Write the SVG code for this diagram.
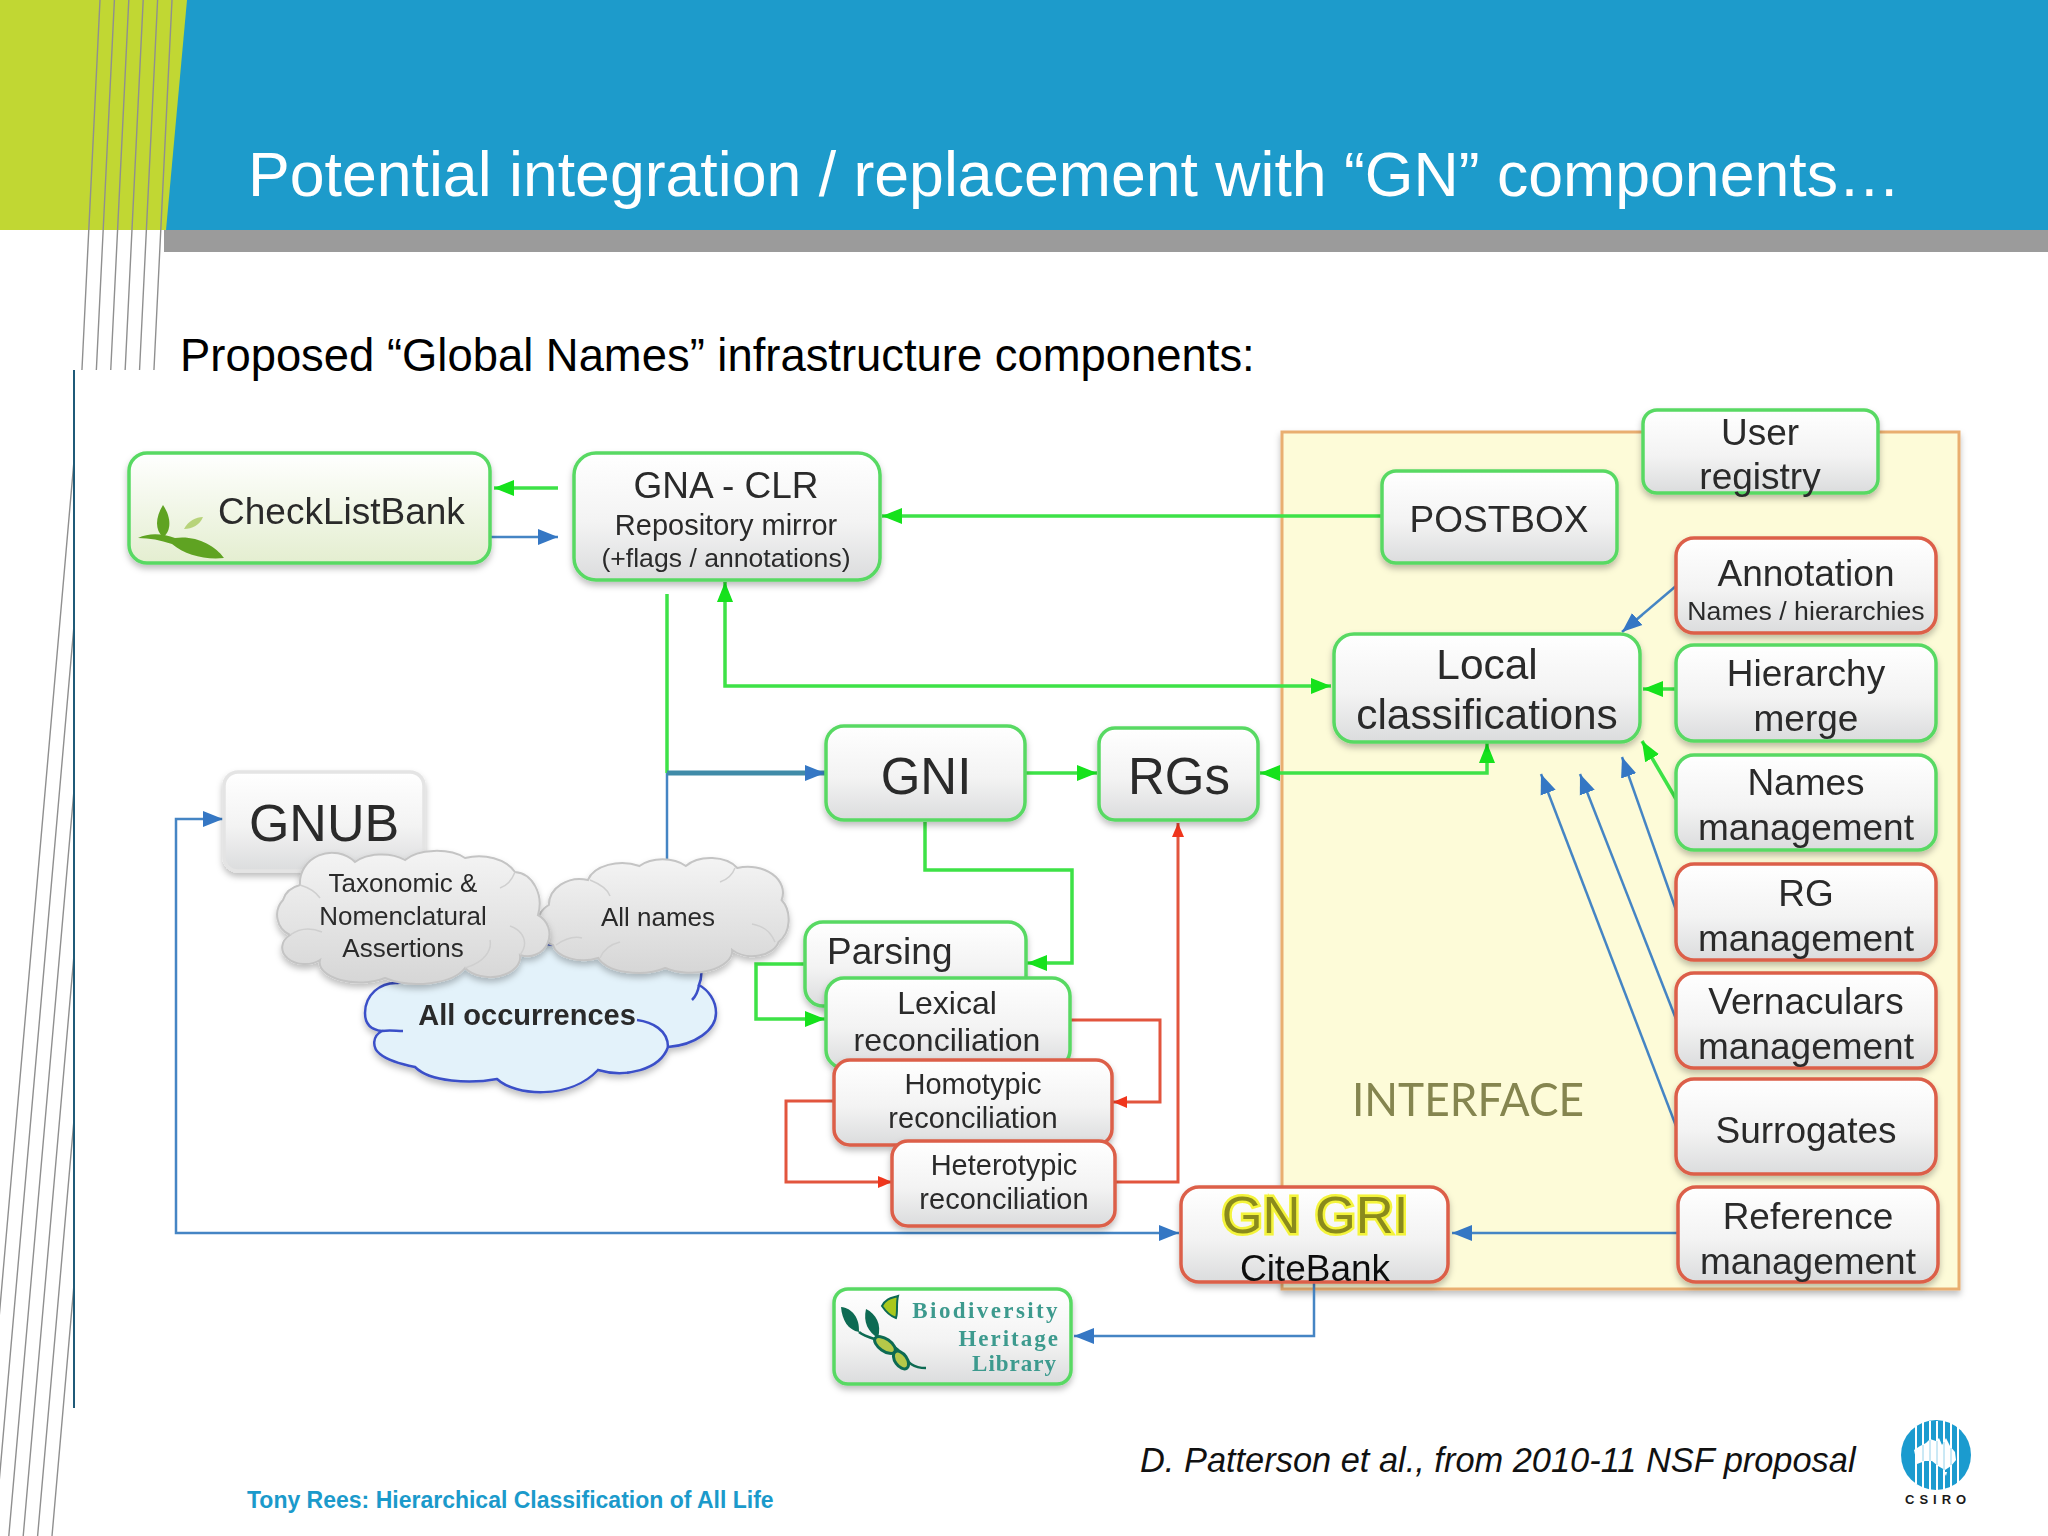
<svg xmlns="http://www.w3.org/2000/svg" width="2048" height="1536" viewBox="0 0 2048 1536">
<defs>
<linearGradient id="gn" x1="0" y1="0" x2="0" y2="1"><stop offset="0" stop-color="#ffffff"/><stop offset="0.55" stop-color="#f3f3f3"/><stop offset="1" stop-color="#dbdcdd"/></linearGradient>
<linearGradient id="gc" x1="0" y1="0" x2="0" y2="1"><stop offset="0" stop-color="#ffffff"/><stop offset="1" stop-color="#e4eed0"/></linearGradient>
<linearGradient id="gcl" x1="0" y1="0" x2="0" y2="1"><stop offset="0" stop-color="#f4f4f4"/><stop offset="1" stop-color="#d6d6d6"/></linearGradient>
<filter id="sh" x="-10%" y="-10%" width="120%" height="125%"><feDropShadow dx="0" dy="4" stdDeviation="3" flood-color="#000" flood-opacity="0.25"/></filter>
<filter id="soft" filterUnits="userSpaceOnUse" x="80" y="380" width="1900" height="1030"><feGaussianBlur stdDeviation="0.7"/></filter>
<marker id="ag" markerUnits="userSpaceOnUse" markerWidth="22" markerHeight="18" refX="20" refY="9" orient="auto-start-reverse"><path d="M0,1 L20,9 L0,17 Z" fill="#12e21c"/></marker>
<marker id="ab" markerUnits="userSpaceOnUse" markerWidth="22" markerHeight="18" refX="20" refY="9" orient="auto-start-reverse"><path d="M0,1 L20,9 L0,17 Z" fill="#3477c4"/></marker>
<marker id="ar" markerUnits="userSpaceOnUse" markerWidth="16" markerHeight="14" refX="14" refY="7" orient="auto-start-reverse"><path d="M0,1 L14,7 L0,13 Z" fill="#f0361c"/></marker>
</defs>
<style>
text{font-family:"Liberation Sans",Arial,sans-serif;fill:#2a2a2a}
.m{text-anchor:middle}
.f37{font-size:37px}
.n{stroke-width:3.5;fill:url(#gn);filter:url(#sh)}
.G{stroke:#58d963}
.R{stroke:#dc5f48}
.c{fill:none;stroke-linejoin:miter}
.cg{stroke:#3ee246;stroke-width:3.5}
.cb{stroke:#4585c4;stroke-width:2.5}
.cr{stroke:#e2553c;stroke-width:3}
.sl{fill:none;stroke:#8f8f8f;stroke-width:1.4}
.cl{fill:url(#gcl);stroke:#c4c4c4;stroke-width:2;filter:url(#sh)}
.in{fill:none;stroke:#cfcfcf;stroke-width:1.5}
.bt{font-family:"Liberation Serif",serif;fill:#3d9a8e;font-size:23px;font-weight:700;text-anchor:end}
</style>
<rect width="2048" height="1536" fill="#fff"/>
<g id="header">
<rect x="0" y="0" width="2048" height="230" fill="#1d9bcb"/>
<polygon points="0,0 187,0 166,230 0,230" fill="#c1d733"/>
<rect x="164" y="230" width="1884" height="22" fill="#9b9b9b"/>
<polyline class="sl" points="172,0 154,369 52,1536"/>
<polyline class="sl" points="157.600,0 139.600,369 37.600,1536"/>
<polyline class="sl" points="143.200,0 125.200,369 23.200,1536"/>
<polyline class="sl" points="128.800,0 110.800,369 8.800,1536"/>
<polyline class="sl" points="114.400,0 96.400,369 -5.600,1536"/>
<polyline class="sl" points="100,0 82,369 -20,1536"/>
<rect x="75" y="370" width="1973" height="1166" fill="#fff"/>
<line x1="74" y1="370" x2="74" y2="1408" stroke="#1f5a78" stroke-width="2"/>
<text x="248" y="196" font-size="62.6" style="fill:#fff">Potential integration / replacement with “GN” components…</text>
<text x="180" y="371" font-size="45.4" style="fill:#000">Proposed “Global Names” infrastructure components:</text>
</g>
<g id="diagram" filter="url(#soft)">
<g id="interface">
<rect x="1282" y="432" width="677" height="857" fill="#fdfbd8" stroke="#e9ae70" stroke-width="3" filter="url(#sh)"/>
<text x="1352" y="1116" font-size="47" textLength="232" lengthAdjust="spacingAndGlyphs" style="font-family:Lato,sans-serif;fill:#85854f">INTERFACE</text>
</g>
<g id="connectors" class="c">
<path class="c cg" d="M558,488 H494" marker-end="url(#ag)"/>
<path class="c cb" d="M490,537 H558" marker-end="url(#ab)"/>
<path class="c cg" d="M1382,516 H882" marker-end="url(#ag)"/>
<path class="c cg" d="M667,594 V773"/>
<path class="c cb" d="M667,773 V866"/>
<path class="c" stroke="#3f8ba8" stroke-width="5" d="M667,773 H825" marker-end="url(#ab)"/>
<path class="c cg" d="M725,582 V686 H1331" marker-start="url(#ag)" marker-end="url(#ag)"/>
<path class="c cg" d="M1026,773 H1097" marker-end="url(#ag)"/>
<path class="c cg" d="M1260,773 H1487 V743" marker-start="url(#ag)" marker-end="url(#ag)"/>
<path class="c cg" d="M925,822 V870 H1072 V963 H1027" marker-end="url(#ag)"/>
<path class="c cg" d="M804,964 H756 V1019 H825" marker-end="url(#ag)"/>
<path class="c cr" d="M1070,1020 H1160 V1102 H1113" marker-end="url(#ar)"/>
<path class="c cr" d="M833,1101 H786 V1182 H892" marker-end="url(#ar)"/>
<path class="c cr" d="M1115,1182 H1178 V823" marker-end="url(#ar)"/>
<path class="c cb" d="M223,819 H176 V1233 H1179" marker-start="url(#ab)" marker-end="url(#ab)"/>
<path class="c cb" d="M1677,1233 H1452" marker-end="url(#ab)"/>
<path class="c cb" d="M1314,1283 V1336 H1074" marker-end="url(#ab)"/>
<path class="c cb" d="M1676,586 L1622,632" marker-end="url(#ab)"/>
<path class="c cg" d="M1676,689 H1643" marker-end="url(#ag)"/>
<path class="c cg" d="M1676,799 L1642,741" marker-end="url(#ag)"/>
<path class="c cb" d="M1676,910 L1622,757" marker-end="url(#ab)"/>
<path class="c cb" d="M1676,1019 L1580,774" marker-end="url(#ab)"/>
<path class="c cb" d="M1676,1126 L1541,774" marker-end="url(#ab)"/>
</g>
<g id="checklistbank">
<rect x="129" y="453" width="361" height="110" rx="18" class="n G" style="fill:url(#gc)"/>
<path d="M163,505 C172,518 171,532 163,537 C155,530 155,518 163,505Z" fill="#5fa322"/>
<path d="M184,529 C188,521 196,517 203,517 C200,525 192,529 184,529Z" fill="#b7d37a"/>
<path d="M138,538 C150,532 164,534 175,538 C195,535 215,545 224,558 C205,560 185,555 172,544 C160,540 150,538 138,538Z" fill="#5fa322"/>
<text x="218" y="524" class="f37">CheckListBank</text>
</g>
<g id="gna-clr">
<rect x="574" y="453" width="306" height="127" rx="22" class="n G"/>
<text class="m" x="726" y="498" font-size="37">GNA - CLR</text>
<text class="m" x="726" y="535" font-size="29">Repository mirror</text>
<text class="m" x="726" y="567" font-size="26.6">(+flags / annotations)</text>
</g>
<g id="postbox">
<rect x="1382" y="471" width="235" height="92" rx="14" class="n G"/>
<text class="m f37" x="1499" y="532">POSTBOX</text>
</g>
<g id="user-registry">
<rect x="1643" y="410" width="235" height="83" rx="14" class="n G"/>
<text class="m f37" x="1760" y="445">User</text>
<text class="m f37" x="1760" y="489">registry</text>
</g>
<g id="annotation">
<rect x="1676" y="538" width="260" height="95" rx="18" class="n R"/>
<text class="m f37" x="1806" y="586">Annotation</text>
<text class="m" x="1806" y="620" font-size="26.7">Names / hierarchies</text>
</g>
<g id="hierarchy-merge">
<rect x="1676" y="645" width="260" height="96" rx="18" class="n G"/>
<text class="m f37" x="1806" y="686">Hierarchy</text>
<text class="m f37" x="1806" y="731">merge</text>
</g>
<g id="names-management">
<rect x="1676" y="755" width="260" height="95" rx="18" class="n G"/>
<text class="m f37" x="1806" y="795">Names</text>
<text class="m f37" x="1806" y="840">management</text>
</g>
<g id="rg-management">
<rect x="1676" y="864" width="260" height="96" rx="18" class="n R"/>
<text class="m f37" x="1806" y="906">RG</text>
<text class="m f37" x="1806" y="951">management</text>
</g>
<g id="vernaculars-management">
<rect x="1676" y="973" width="260" height="95" rx="18" class="n R"/>
<text class="m f37" x="1806" y="1014">Vernaculars</text>
<text class="m f37" x="1806" y="1059">management</text>
</g>
<g id="surrogates">
<rect x="1676" y="1079" width="260" height="95" rx="18" class="n R"/>
<text class="m f37" x="1806" y="1143">Surrogates</text>
</g>
<g id="reference-management">
<rect x="1678" y="1187" width="260" height="95" rx="18" class="n R"/>
<text class="m f37" x="1808" y="1229">Reference</text>
<text class="m f37" x="1808" y="1274">management</text>
</g>
<g id="local-classifications">
<rect x="1334" y="634" width="306" height="108" rx="20" class="n G"/>
<text class="m" x="1487" y="679" font-size="42.4">Local</text>
<text class="m" x="1487" y="729" font-size="42.4">classifications</text>
</g>
<g id="gni">
<rect x="826" y="726" width="199" height="94" rx="18" class="n G"/>
<text class="m" x="926" y="794" font-size="51">GNI</text>
</g>
<g id="rgs">
<rect x="1099" y="728" width="159" height="92" rx="16" class="n G"/>
<text class="m" x="1179" y="794" font-size="51">RGs</text>
</g>
<g id="gnub">
<rect x="224" y="772" width="200" height="99" rx="14" class="n" stroke="#e4e4e4" stroke-width="2"/>
<text class="m" x="324" y="841" font-size="52">GNUB</text>
</g>
<g id="all-occurrences">
<path d="M398,983 C380,982 365,995 365,1013 C365,1025 372,1030 382,1031 C372,1036 372,1048 380,1054 C390,1062 405,1065 415,1067 C430,1082 470,1084 497,1079 C515,1096 570,1100 598,1070 C625,1078 660,1070 668,1047 C695,1045 716,1030 716,1013 C716,1000 708,990 699,985 C702,978 702,970 699,967 L520,940 Z" fill="#e3f2fa" stroke="#3b50c8" stroke-width="2.5" filter="url(#sh)"/>
<path d="M382,1031 C390,1030 396,1031 403,1031 M668,1047 C668,1030 652,1022 637,1020 M699,985 C698,992 696,996 692,1000" fill="none" stroke="#3b50c8" stroke-width="2.5"/>
<text class="m" x="527" y="1025" font-size="29" font-weight="700">All occurrences</text>
</g>
<g id="all-names">
<path transform="translate(658 914) scale(1.03 1) translate(-658 -914)" d="M556,945 A22,22 0 0 1 552,905 A30,26 0 0 1 590,880 A34,22 0 0 1 640,866 A30,20 0 0 1 685,866 A30,20 0 0 1 735,868 A34,26 0 0 1 778,900 A20,26 0 0 1 775,942 A26,18 0 0 1 730,950 A40,22 0 0 1 665,968 A40,20 0 0 1 600,958 A30,18 0 0 1 556,945Z" class="cl"/>
<path class="in" d="M590,880 C600,884 608,890 610,896 M735,868 C732,876 726,880 720,882 M775,942 C770,930 762,926 752,924 M600,958 C604,948 612,944 620,942 M556,945 C566,938 574,936 582,938"/>
<text class="m" x="658" y="926" font-size="26">All names</text>
</g>
<g id="taxonomic-assertions">
<path transform="translate(-5 0)" d="M295,935 A22,22 0 0 1 288,900 A26,20 0 0 1 305,885 A32,30 0 0 1 360,862 A34,20 0 0 1 410,860 A36,18 0 0 1 470,858 A40,28 0 0 1 520,872 A26,32 0 0 1 543,915 A22,22 0 0 1 525,955 A30,20 0 0 1 470,968 A50,24 0 0 1 390,978 A40,20 0 0 1 325,960 A22,16 0 0 1 295,935Z" class="cl"/>
<path class="in" d="M290,935 C300,928 312,928 322,932 M520,955 C530,942 522,930 510,926 M465,968 C485,962 492,950 490,940 M300,885 C310,888 316,892 320,898 M515,872 C512,880 506,886 500,888"/>
<text class="m" x="403" y="892" font-size="26">Taxonomic &amp;</text>
<text class="m" x="403" y="925" font-size="26">Nomenclatural</text>
<text class="m" x="403" y="957" font-size="26">Assertions</text>
</g>
<g id="parsing">
<rect x="805" y="922" width="221" height="84" rx="18" class="n G"/>
<text x="827" y="964" class="f37">Parsing</text>
</g>
<g id="lexical-reconciliation">
<rect x="826" y="978" width="244" height="90" rx="18" class="n G"/>
<text class="m" x="947" y="1014" font-size="32">Lexical</text>
<text class="m" x="947" y="1051" font-size="32">reconciliation</text>
</g>
<g id="homotypic-reconciliation">
<rect x="834" y="1060" width="278" height="85" rx="16" class="n R"/>
<text class="m" x="973" y="1094" font-size="29">Homotypic</text>
<text class="m" x="973" y="1128" font-size="29">reconciliation</text>
</g>
<g id="heterotypic-reconciliation">
<rect x="892" y="1141" width="223" height="85" rx="16" class="n R"/>
<text class="m" x="1004" y="1175" font-size="29">Heterotypic</text>
<text class="m" x="1004" y="1209" font-size="29">reconciliation</text>
</g>
<g id="gn-gri">
<rect x="1181" y="1187" width="267" height="95" rx="18" class="n R"/>
<text class="m" x="1315" y="1233" font-size="52.5" style="fill:#8a8a1a;stroke:#f4f43a;stroke-width:5;paint-order:stroke">GN GRI</text>
<text class="m f37" x="1315" y="1281" style="fill:#111">CiteBank</text>
</g>
<g id="bhl">
<rect x="834" y="1289" width="237" height="95" rx="14" class="n G"/>
<path d="M841,1307 C852,1308 860,1318 859,1332 C848,1330 842,1320 841,1307Z M866,1309 C876,1314 882,1324 878,1338 C868,1332 863,1322 866,1309Z" fill="#0f6b52"/>
<path d="M882,1306 C886,1298 892,1298 898,1296 C896,1304 898,1312 896,1318 C890,1316 886,1312 882,1306Z" fill="#a9c81e" stroke="#0f6b52" stroke-width="2"/>
<path d="M859,1332 C868,1340 890,1340 900,1352 C908,1362 912,1368 926,1368" fill="none" stroke="#0f6b52" stroke-width="2.5"/>
<ellipse cx="885" cy="1345" rx="12" ry="6" transform="rotate(35 885 1345)" fill="#b6c84a" stroke="#0f6b52" stroke-width="3"/>
<ellipse cx="901" cy="1360" rx="10" ry="6" transform="rotate(55 901 1360)" fill="#b6c84a" stroke="#0f6b52" stroke-width="3"/>
<text class="bt" x="1060" y="1318" style="letter-spacing:2.4px">Biodiversity</text>
<text class="bt" x="1060" y="1346" style="letter-spacing:2px">Heritage</text>
<text class="bt" x="1057" y="1371" style="letter-spacing:1px">Library</text>
</g>
</g>
<g id="footer">
<text x="1140" y="1472" font-size="34.4" font-style="italic" style="fill:#111">D. Patterson et al., from 2010-11 NSF proposal</text>
<text x="247" y="1508" font-size="23" font-weight="700" style="fill:#1b9acb">Tony Rees: Hierarchical Classification of All Life</text>
</g>
<g id="csiro-logo">
<circle cx="1936" cy="1455" r="35" fill="#1b9bcf"/>
<path d="M1916,1426 V1484 M1923,1422 V1488 M1930,1421 V1490 M1937,1421 V1490 M1944,1421 V1490 M1951,1422 V1488 M1958,1426 V1484" stroke="#fff" stroke-width="2"/>
<path d="M1914,1450 L1920,1446 L1926,1443 L1930,1439 L1936,1441 L1939,1438 L1942,1445 L1946,1438 L1950,1446 L1955,1452 L1956,1460 L1951,1466 L1945,1470 L1938,1466 L1932,1461 L1925,1461 L1917,1464 Z M1944,1472 L1947,1472 L1946,1476 Z" fill="#fff"/>
<path d="M1923,1445 V1461 M1930,1440 V1461 M1937,1441 V1465 M1944,1442 V1470 M1951,1448 V1465" stroke="#7cc6e6" stroke-width="0.8"/>
<text x="1905" y="1504" font-size="13" font-weight="700" style="letter-spacing:5px;fill:#1a1a1a">CSIRO</text>
</g>
</svg>
